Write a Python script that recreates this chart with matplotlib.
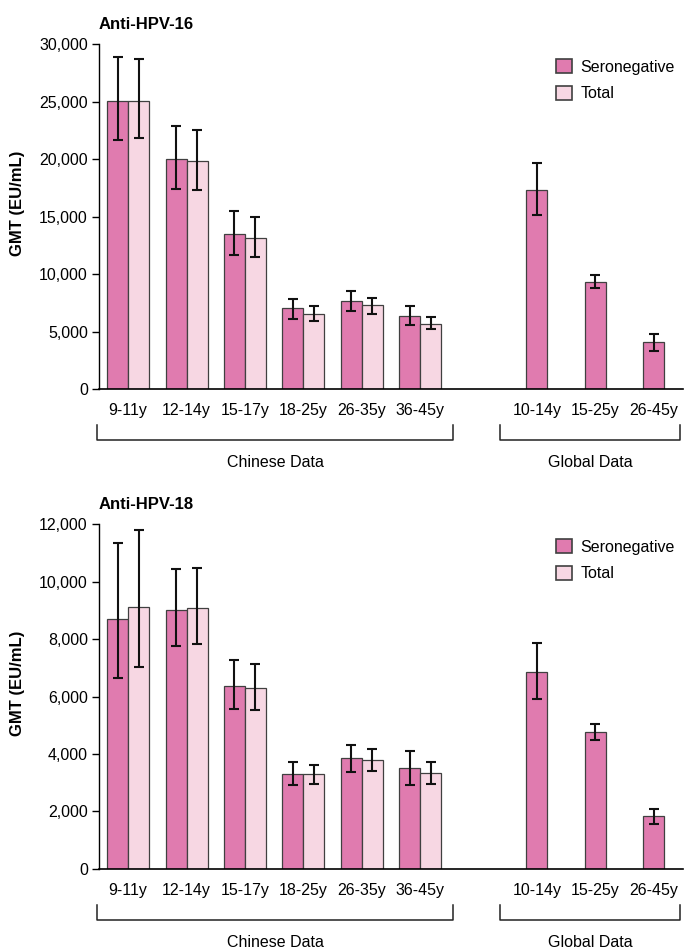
import numpy as np
import matplotlib.pyplot as plt
from matplotlib.ticker import FuncFormatter

plt.rcParams['font.family'] = ['Liberation Sans', 'DejaVu Sans']

cn_groups = ['9-11y', '12-14y', '15-17y', '18-25y', '26-35y', '36-45y']
gl_groups = ['10-14y', '15-25y', '26-45y']

# Anti-HPV-16
h16_sero = [25050, 20050, 13500, 7050, 7650, 6350]
h16_sero_lo = [21650, 17400, 11700, 6100, 6750, 5550]
h16_sero_hi = [28900, 22900, 15500, 7850, 8500, 7200]
h16_tot = [25050, 19800, 13150, 6550, 7300, 5700]
h16_tot_lo = [21800, 17300, 11500, 5900, 6550, 5200]
h16_tot_hi = [28750, 22550, 15000, 7250, 7950, 6250]
h16_glob = [17300, 9350, 4050]
h16_glob_lo = [15100, 8800, 3350]
h16_glob_hi = [19700, 9900, 4750]

# Anti-HPV-18
h18_sero = [8700, 9000, 6350, 3300, 3850, 3500]
h18_sero_lo = [6650, 7750, 5550, 2930, 3380, 2930]
h18_sero_hi = [11350, 10430, 7270, 3720, 4320, 4100]
h18_tot = [9130, 9080, 6300, 3300, 3780, 3350]
h18_tot_lo = [7030, 7830, 5530, 2970, 3420, 2970]
h18_tot_hi = [11800, 10470, 7130, 3630, 4170, 3730]
h18_glob = [6850, 4780, 1850]
h18_glob_lo = [5900, 4500, 1580]
h18_glob_hi = [7870, 5060, 2100]

c_sero = '#E07BAF'
c_tot = '#F7D7E3'
edge = '#404040'
w = 0.36


def yerr(v, lo, hi):
    v = np.array(v)
    return np.array([v - np.array(lo), np.array(hi) - v])


def panel(ax, title, ymax, step, sero, slo, shi, tot, tlo, thi, gl, glo, ghi):
    xc = np.arange(len(cn_groups))
    xg = np.arange(len(gl_groups)) + len(cn_groups) + 1
    ekw = dict(ecolor='#111111', elinewidth=1.5, capsize=3.5, capthick=1.5)
    ax.bar(xc - w / 2, sero, w, color=c_sero, edgecolor=edge, linewidth=0.9,
           yerr=yerr(sero, slo, shi), error_kw=ekw, label='Seronegative')
    ax.bar(xc + w / 2, tot, w, color=c_tot, edgecolor=edge, linewidth=0.9,
           yerr=yerr(tot, tlo, thi), error_kw=ekw, label='Total')
    ax.bar(xg, gl, w, color=c_sero, edgecolor=edge, linewidth=0.9,
           yerr=yerr(gl, glo, ghi), error_kw=ekw)

    ax.set_xlim(-0.5, xg[-1] + 0.5)
    ax.set_ylim(0, ymax)
    ax.set_yticks(np.arange(0, ymax + 1, step))
    ax.yaxis.set_major_formatter(FuncFormatter(lambda v, p: f'{int(v):,}'))
    ax.set_xticks(list(xc) + list(xg))
    ax.set_xticklabels(cn_groups + gl_groups)
    ax.tick_params(axis='x', length=0, pad=10, labelsize=11.5)
    ax.tick_params(axis='y', length=5, width=1, labelsize=11.5, pad=3)
    for s in ['top', 'right']:
        ax.spines[s].set_visible(False)
    ax.spines['left'].set_linewidth(1)
    ax.spines['bottom'].set_linewidth(1.2)

    ax.set_ylabel('GMT (EU/mL)', fontweight='bold', fontsize=12)
    ax.yaxis.set_label_coords(-0.127, 0.539)
    ax.set_title(title, loc='left', fontweight='bold', fontsize=12, pad=11)

    leg = ax.legend(loc='upper left', bbox_to_anchor=(0.77, 0.98), frameon=False,
                    fontsize=11.5, handlelength=1.0, handleheight=1.0,
                    handletextpad=0.5, labelspacing=0.7, borderpad=0)
    for p in leg.get_patches():
        p.set_linewidth(1.2)

    tr = ax.get_xaxis_transform()
    for x0, x1, txt in [(-0.53, 5.56, 'Chinese Data'), (6.37, 9.45, 'Global Data')]:
        ax.plot([x0, x0, x1, x1], [-0.104, -0.148, -0.148, -0.104], color='#222222',
                lw=1.1, transform=tr, clip_on=False)
        ax.text((x0 + x1) / 2, -0.212, txt, transform=tr, ha='center', va='center',
                fontsize=11.5)


fig = plt.figure(figsize=(7, 9.5), dpi=100)
ax1 = fig.add_axes([0.1414, 0.5905, 0.834, 0.363])
ax2 = fig.add_axes([0.1414, 0.0853, 0.834, 0.363])

panel(ax1, 'Anti-HPV-16', 30000, 5000, h16_sero, h16_sero_lo, h16_sero_hi,
      h16_tot, h16_tot_lo, h16_tot_hi, h16_glob, h16_glob_lo, h16_glob_hi)
panel(ax2, 'Anti-HPV-18', 12000, 2000, h18_sero, h18_sero_lo, h18_sero_hi,
      h18_tot, h18_tot_lo, h18_tot_hi, h18_glob, h18_glob_lo, h18_glob_hi)

plt.savefig('out.png', dpi=100)
